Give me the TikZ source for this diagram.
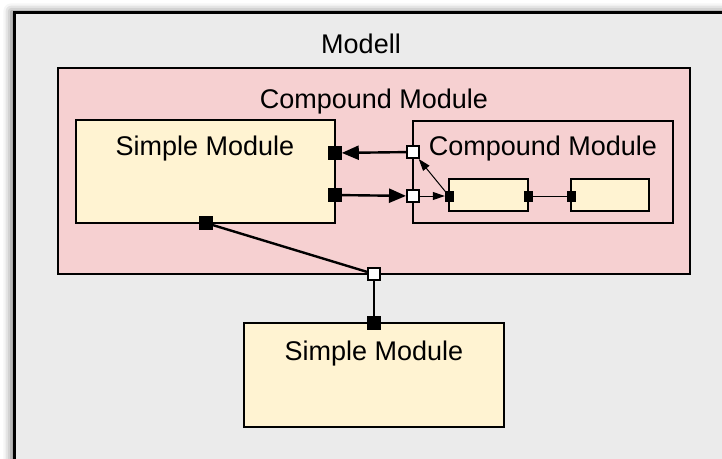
\documentclass[tikz,border=0pt]{standalone}
\usepackage{fontspec}
\setmainfont{Liberation Sans}
\usetikzlibrary{arrows.meta,shadows.blur}
\definecolor{outerbg}{HTML}{EBEBEB}
\definecolor{pinkbg}{HTML}{F6D0D1}
\definecolor{yellowbg}{HTML}{FFF3D2}
\tikzset{
  box/.style={draw=black, rectangle, inner sep=0pt, line width=2.4pt},
  modbox/.style={box, fill=yellowbg},
  cmpbox/.style={box, fill=pinkbg, line width=2pt},
  title/.style={anchor=base, inner sep=0pt, font=\fontsize{27}{32}\selectfont},
  bport/.style={rectangle, fill=black, draw=black, line width=0.6pt, inner sep=0pt, minimum size=13pt},
  wport/.style={rectangle, fill=white, draw=black, line width=2pt, inner sep=0pt, minimum size=12pt},
  sport/.style={rectangle, fill=black, draw=black, line width=0.4pt, inner sep=0pt, minimum width=8pt, minimum height=10pt},
  conn/.style={draw=black, line width=2.4pt},
  thinconn/.style={draw=black, line width=1pt},
  thickarrow/.style={conn, -{Triangle[length=17pt,width=14pt]}},
  thinarrow/.style={thinconn, -{Triangle[length=12pt,width=8pt]}},
}
\begin{document}
\begin{tikzpicture}[x=1pt,y=-1pt]
\useasboundingbox (0,0) rectangle (722,458);
\clip (0,0) rectangle (722,458);
% outer frame
\node[box, fill=outerbg, line width=2.6pt, minimum width=740pt, minimum height=480pt, anchor=north west,
  blur shadow={shadow xshift=-3pt, shadow yshift=1pt, shadow blur radius=8pt, shadow opacity=55}] (outer) at (13,11) {};
\node[title] (outertitle) at (361,53) {Modell};
% compound module
\node[cmpbox, minimum width=632pt, minimum height=206pt] (cmp) at (374,171) {};
\node[title] (cmptitle) at (374,108) {Compound Module};
% left simple module
\node[modbox, minimum width=259pt, minimum height=103pt] (sm1) at (205.5,171.5) {};
\node[title] (sm1title) at (205,155) {Simple Module};
% inner compound module
\node[box, line width=2pt, minimum width=260pt, minimum height=102pt] (cm2) at (543,172) {};
\node[title] (cm2title) at (543,155.5) {Compound Module};
% small inner modules
\node[modbox, line width=2pt, minimum width=79pt, minimum height=32pt] (b1) at (488.5,195) {};
\node[modbox, line width=2pt, minimum width=78pt, minimum height=32pt] (b2) at (610,195) {};
% bottom simple module
\node[modbox, minimum width=260pt, minimum height=104pt] (sm2) at (374,375) {};
\node[title] (sm2title) at (374,360) {Simple Module};
% ports
\node[bport] (pA) at (335,153) {};
\node[bport] (pB) at (335,195) {};
\node[bport] (pC) at (206,223) {};
\node[bport] (pD) at (374,323) {};
\node[wport] (wA) at (413,152) {};
\node[wport] (wB) at (413,196) {};
\node[wport] (wC) at (374,274) {};
\node[sport] (s1) at (449,196) {};
\node[sport] (s2) at (528,196) {};
\node[sport] (s3) at (571,196) {};
% connections
\draw[thickarrow] (wA) -- (pA);
\draw[thickarrow] (pB) -- (wB);
\draw[thinarrow] (wB) -- (s1);
\draw[thinarrow] (s1.center) -- (wA);
\draw[thinconn] (s2) -- (s3);
\draw[conn] (pC.center) -- (wC);
\draw[conn] (wC) -- (pD);
% redraw ports over lines
\node[bport] at (pC) {};
\node[sport] at (s1) {};
\end{tikzpicture}
\end{document}
